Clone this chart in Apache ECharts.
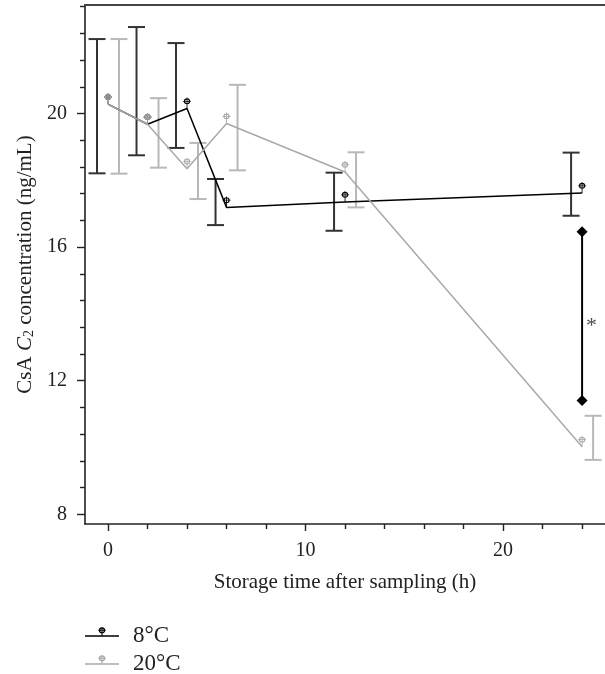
<!DOCTYPE html>
<html>
<head>
<meta charset="utf-8">
<script src="https://cdn.jsdelivr.net/npm/echarts@6/dist/echarts.min.js"></script>
<style>
html,body{margin:0;padding:0;background:#fff;}
#chart{width:605px;height:674px;}
</style>
</head>
<body>
<div id="chart"></div>
<script>
// ---- data ----
const times = [0, 2, 4, 6, 12, 24];
const mean8 = [20.28, 19.68, 20.15, 17.19, 17.35, 17.62];
const mean20 = [20.28, 19.68, 18.35, 19.70, 18.25, 10.02];
const low8 = [18.21, 18.75, 18.97, 16.66, 16.49, 16.94];
const high8 = [22.23, 22.59, 22.11, 18.04, 18.23, 18.83];
const low20 = [18.20, 18.38, 17.44, 18.30, 17.19, 9.63];
const high20 = [22.23, 20.46, 19.12, 20.86, 18.84, 10.95];
const sigTime = 24;
const sigRange = [16.46, 11.41];
const sigLabel = '*';
const seriesNames = ['8°C', '20°C'];
const xMajorTicks = [0, 10, 20];
const xMinorTicks = [2, 4, 6, 8, 12, 14, 16, 18, 22, 24];
const yMajorTicks = [8, 12, 16, 20];
const yMinorTicks = [8.8, 9.6, 10.4, 11.2, 12.8, 13.6, 14.4, 15.2, 16.8, 17.6, 18.4, 19.2, 20.8, 21.6, 22.4, 23.2];

// ---- styling ----
const FONT = 'Liberation Serif';
const TXT = '#222';
const BLACK = '#000';
const BLACK_BAR = '#333';
const GRAY = '#a9a9a9';
const GRAY_BAR = '#b8b8b8';
const X_MIN = -1.165, X_MAX = 25.16, Y_MIN = 7.71, Y_MAX = 23.25;

const markerPath = 'path://M2.5,10 A7.5,7.5 0 1,1 17.5,10 A7.5,7.5 0 1,1 2.5,10 Z M5.3,10 A4.7,4.7 0 1,0 14.7,10 A4.7,4.7 0 1,0 5.3,10 Z M0.5,9 L19.5,9 L19.5,11 L0.5,11 Z M9,0.5 L11,0.5 L11,28 L9,28 Z';
const legendPath = 'path://M20,0 L20.01,0 L20.01,0.01 Z M20,21 L20.01,21 L20.01,20.99 Z ' +
  'M0,9.7 L40,9.7 L40,11.3 L0,11.3 Z ' +
  'M16.3,3.8 A3.7,3.7 0 1,1 23.7,3.8 A3.7,3.7 0 1,1 16.3,3.8 Z M17.8,3.8 A2.2,2.2 0 1,0 22.2,3.8 A2.2,2.2 0 1,0 17.8,3.8 Z ' +
  'M15.5,3.2 L24.5,3.2 L24.5,4.4 L15.5,4.4 Z M19.4,0 L20.6,0 L20.6,10 L19.4,10 Z';

function zip2(a, b) { return a.map((v, i) => [v, b[i]]); }
function zip3(a, b, c) { return a.map((v, i) => [v, b[i], c[i]]); }

function errRender(offset, color) {
  return function (params, api) {
    const p1 = api.coord([api.value(0), api.value(1)]);
    const p2 = api.coord([api.value(0), api.value(2)]);
    const x = p1[0] + offset;
    const hw = 8.5;
    const st = { stroke: color, lineWidth: 2, fill: null };
    return {
      type: 'group',
      children: [
        { type: 'line', shape: { x1: x, y1: p1[1], x2: x, y2: p2[1] }, style: st },
        { type: 'line', shape: { x1: x - hw, y1: p1[1], x2: x + hw, y2: p1[1] }, style: st },
        { type: 'line', shape: { x1: x - hw, y1: p2[1], x2: x + hw, y2: p2[1] }, style: st }
      ]
    };
  };
}

const chart = echarts.init(document.getElementById('chart'), null, { renderer: 'canvas' });

const baseX = { type: 'value', min: X_MIN, max: X_MAX, splitLine: { show: false } };
const baseY = { type: 'value', min: Y_MIN, max: Y_MAX, splitLine: { show: false } };

function legendFor(name, top) {
  return {
    orient: 'horizontal',
    left: 85,
    top: top,
    padding: 0,
    itemWidth: 34,
    itemHeight: 18,
    data: [{ name: name, icon: legendPath }],
    textStyle: { fontFamily: FONT, fontSize: 23, color: TXT, lineHeight: 24, padding: [0, 0, 0, 9] }
  };
}

chart.setOption({
  animation: false,
  backgroundColor: '#fff',
  textStyle: { fontFamily: FONT, color: TXT },
  grid: { left: 85, right: 0, top: 5, bottom: 150, containLabel: false },
  legend: [legendFor(seriesNames[0], 624), legendFor(seriesNames[1], 652)],
  xAxis: [
    Object.assign({}, baseX, {
      position: 'bottom',
      name: 'Storage time after sampling (h)',
      nameLocation: 'middle',
      nameGap: 48,
      nameTextStyle: { fontFamily: FONT, fontSize: 21, color: TXT },
      axisLine: { show: true, onZero: false, lineStyle: { color: '#222', width: 1.6 } },
      axisTick: { show: true, customValues: xMajorTicks, length: 7, lineStyle: { color: '#222', width: 1.4 } },
      axisLabel: { show: true, customValues: xMajorTicks, margin: 17, fontFamily: FONT, fontSize: 20, color: TXT }
    }),
    Object.assign({}, baseX, {
      position: 'bottom',
      axisLine: { show: false, onZero: false },
      axisTick: { show: true, customValues: xMinorTicks, length: 5, lineStyle: { color: '#222', width: 1.4 } },
      axisLabel: { show: false }
    }),
    Object.assign({}, baseX, {
      position: 'top',
      axisLine: { show: true, onZero: false, lineStyle: { color: '#444', width: 2 } },
      axisTick: { show: false },
      axisLabel: { show: false }
    })
  ],
  yAxis: [
    Object.assign({}, baseY, {
      position: 'left',
      name: 'CsA {i|C}{s|2} concentration (ng/mL)',
      nameLocation: 'middle',
      nameRotate: 90,
      nameGap: 48,
      nameTextStyle: {
        fontFamily: FONT, fontSize: 21, color: TXT, lineHeight: 22,
        rich: {
          i: { fontFamily: FONT, fontSize: 21, fontStyle: 'italic', color: TXT, lineHeight: 22 },
          s: { fontFamily: FONT, fontSize: 14, color: TXT, verticalAlign: 'bottom', lineHeight: 14 }
        }
      },
      axisLine: { show: true, onZero: false, lineStyle: { color: '#222', width: 1.6 } },
      axisTick: { show: true, customValues: yMajorTicks, length: 8, lineStyle: { color: '#222', width: 1.4 } },
      axisLabel: { show: true, customValues: yMajorTicks, margin: 18, fontFamily: FONT, fontSize: 20, color: TXT }
    }),
    Object.assign({}, baseY, {
      position: 'left',
      axisLine: { show: false, onZero: false },
      axisTick: { show: true, customValues: yMinorTicks, length: 5, lineStyle: { color: '#222', width: 1.4 } },
      axisLabel: { show: false }
    })
  ],
  series: [
    {
      name: 'err8', type: 'custom', xAxisIndex: 0, yAxisIndex: 0,
      data: zip3(times, low8, high8), encode: { x: 0, y: [1, 2] },
      renderItem: errRender(-11, BLACK_BAR), z: 2, silent: true
    },
    {
      name: 'err20', type: 'custom', xAxisIndex: 0, yAxisIndex: 0,
      data: zip3(times, low20, high20), encode: { x: 0, y: [1, 2] },
      renderItem: errRender(11, GRAY_BAR), z: 2, silent: true
    },
    {
      name: seriesNames[0], type: 'line', xAxisIndex: 0, yAxisIndex: 0,
      data: zip2(times, mean8),
      symbol: markerPath, symbolSize: [8, 11], symbolOffset: [0, '-50%'],
      showSymbol: true,
      itemStyle: { color: BLACK },
      lineStyle: { color: BLACK, width: 1.5 },
      z: 3
    },
    {
      name: seriesNames[1], type: 'line', xAxisIndex: 0, yAxisIndex: 0,
      data: zip2(times, mean20),
      symbol: markerPath, symbolSize: [8, 11], symbolOffset: [0, '-50%'],
      showSymbol: true,
      itemStyle: { color: GRAY },
      lineStyle: { color: GRAY, width: 1.5 },
      z: 4
    },
    {
      name: 'sig', type: 'line', xAxisIndex: 0, yAxisIndex: 0,
      data: sigRange.map(v => [sigTime, v]),
      symbol: 'diamond', symbolSize: 11, showSymbol: true,
      itemStyle: { color: BLACK },
      lineStyle: { color: BLACK, width: 2 },
      z: 5
    },
    {
      name: 'sigLabel', type: 'scatter', xAxisIndex: 0, yAxisIndex: 0,
      data: [[sigTime, (sigRange[0] + sigRange[1]) / 2]],
      symbolSize: 0,
      label: {
        show: true, position: 'right', distance: 4, offset: [0, 10],
        formatter: sigLabel, fontFamily: FONT, fontSize: 22, color: TXT
      },
      z: 5
    }
  ]
});
</script>
</body>
</html>
